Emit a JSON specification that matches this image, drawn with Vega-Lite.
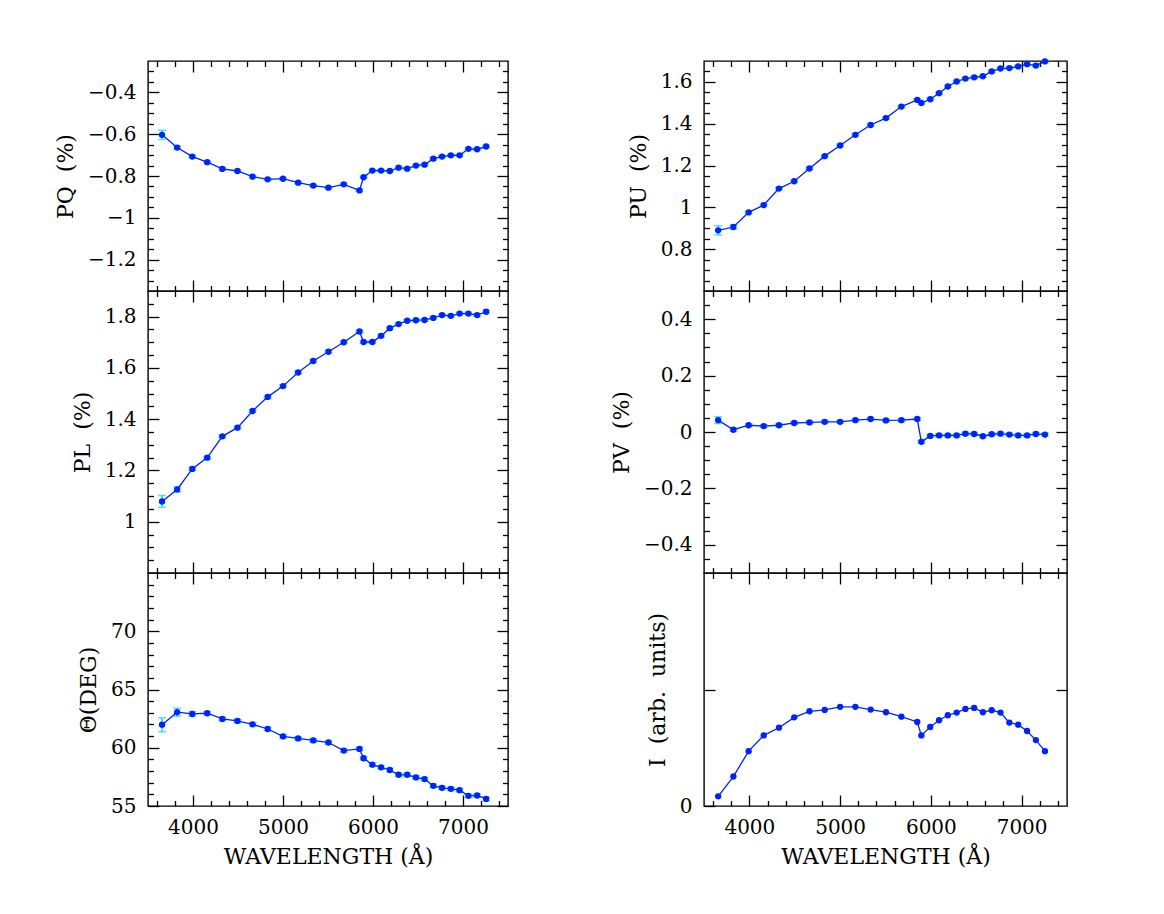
{
  "$schema": "https://vega.github.io/schema/vega-lite/v6.json",
  "background": "white",
  "padding": {"left": 53, "top": 57, "right": 10, "bottom": 10},
  "config": {
    "view": {"stroke": "black", "strokeWidth": 1.4},
    "axis": {
      "domain": false, "grid": false, "tickColor": "black", "tickWidth": 1.3,
      "labelFont": "DejaVu Serif", "labelFontSize": 20, "labelColor": "black",
      "titleFont": "DejaVu Serif", "titleFontSize": 22, "titleFontWeight": "normal", "titleColor": "black",
      "labelOverlap": false, "labelFlush": false, "labelBound": false
    }
  },
  "datasets": {
    "pq": [
      {"wl":3656,"v":-0.603,"e":0.022},{"wl":3824,"v":-0.664,"e":0.008},{"wl":3992,"v":-0.707,"e":0.006},{"wl":4158,"v":-0.734,"e":0.005},{"wl":4326,"v":-0.766,"e":0.005},{"wl":4494,"v":-0.776,"e":0.005},{"wl":4662,"v":-0.803,"e":0.005},{"wl":4830,"v":-0.816,"e":0.005},{"wl":5000,"v":-0.813,"e":0.005},{"wl":5168,"v":-0.832,"e":0.005},{"wl":5336,"v":-0.846,"e":0.005},{"wl":5505,"v":-0.856,"e":0.005},{"wl":5675,"v":-0.840,"e":0.005},{"wl":5850,"v":-0.869,"e":0.005},{"wl":5895,"v":-0.806,"e":0.005},{"wl":5993,"v":-0.774,"e":0.005},{"wl":6090,"v":-0.774,"e":0.005},{"wl":6187,"v":-0.776,"e":0.005},{"wl":6284,"v":-0.760,"e":0.005},{"wl":6380,"v":-0.765,"e":0.005},{"wl":6477,"v":-0.750,"e":0.005},{"wl":6573,"v":-0.746,"e":0.005},{"wl":6670,"v":-0.717,"e":0.005},{"wl":6767,"v":-0.707,"e":0.005},{"wl":6865,"v":-0.701,"e":0.005},{"wl":6962,"v":-0.701,"e":0.005},{"wl":7060,"v":-0.670,"e":0.005},{"wl":7157,"v":-0.672,"e":0.005},{"wl":7257,"v":-0.659,"e":0.005}
    ],
    "pu": [
      {"wl":3656,"v":0.890,"e":0.022},{"wl":3824,"v":0.906,"e":0.01},{"wl":3992,"v":0.976,"e":0.006},{"wl":4158,"v":1.011,"e":0.005},{"wl":4326,"v":1.090,"e":0.005},{"wl":4494,"v":1.125,"e":0.005},{"wl":4662,"v":1.186,"e":0.005},{"wl":4830,"v":1.245,"e":0.005},{"wl":5000,"v":1.296,"e":0.005},{"wl":5168,"v":1.347,"e":0.005},{"wl":5336,"v":1.394,"e":0.005},{"wl":5505,"v":1.427,"e":0.005},{"wl":5675,"v":1.482,"e":0.005},{"wl":5850,"v":1.514,"e":0.005},{"wl":5895,"v":1.499,"e":0.005},{"wl":5993,"v":1.517,"e":0.005},{"wl":6090,"v":1.546,"e":0.005},{"wl":6187,"v":1.578,"e":0.005},{"wl":6284,"v":1.602,"e":0.005},{"wl":6380,"v":1.616,"e":0.005},{"wl":6477,"v":1.622,"e":0.005},{"wl":6573,"v":1.627,"e":0.005},{"wl":6670,"v":1.650,"e":0.005},{"wl":6767,"v":1.664,"e":0.005},{"wl":6865,"v":1.666,"e":0.005},{"wl":6962,"v":1.674,"e":0.005},{"wl":7060,"v":1.685,"e":0.005},{"wl":7157,"v":1.678,"e":0.005},{"wl":7257,"v":1.698,"e":0.005}
    ],
    "pl": [
      {"wl":3656,"v":1.079,"e":0.023},{"wl":3824,"v":1.126,"e":0.01},{"wl":3992,"v":1.206,"e":0.006},{"wl":4158,"v":1.250,"e":0.005},{"wl":4326,"v":1.333,"e":0.005},{"wl":4494,"v":1.367,"e":0.005},{"wl":4662,"v":1.432,"e":0.005},{"wl":4830,"v":1.487,"e":0.005},{"wl":5000,"v":1.529,"e":0.005},{"wl":5168,"v":1.582,"e":0.005},{"wl":5336,"v":1.627,"e":0.005},{"wl":5505,"v":1.663,"e":0.005},{"wl":5675,"v":1.700,"e":0.005},{"wl":5850,"v":1.742,"e":0.005},{"wl":5895,"v":1.701,"e":0.005},{"wl":5993,"v":1.701,"e":0.005},{"wl":6090,"v":1.725,"e":0.005},{"wl":6187,"v":1.755,"e":0.005},{"wl":6284,"v":1.771,"e":0.005},{"wl":6380,"v":1.784,"e":0.005},{"wl":6477,"v":1.786,"e":0.005},{"wl":6573,"v":1.787,"e":0.005},{"wl":6670,"v":1.795,"e":0.005},{"wl":6767,"v":1.806,"e":0.005},{"wl":6865,"v":1.803,"e":0.005},{"wl":6962,"v":1.812,"e":0.005},{"wl":7060,"v":1.812,"e":0.005},{"wl":7157,"v":1.806,"e":0.005},{"wl":7257,"v":1.819,"e":0.005}
    ],
    "pv": [
      {"wl":3656,"v":0.042,"e":0.012},{"wl":3824,"v":0.008,"e":0.006},{"wl":3992,"v":0.024,"e":0.005},{"wl":4158,"v":0.021,"e":0.005},{"wl":4326,"v":0.024,"e":0.005},{"wl":4494,"v":0.032,"e":0.005},{"wl":4662,"v":0.034,"e":0.005},{"wl":4830,"v":0.036,"e":0.005},{"wl":5000,"v":0.036,"e":0.005},{"wl":5168,"v":0.042,"e":0.005},{"wl":5336,"v":0.046,"e":0.005},{"wl":5505,"v":0.041,"e":0.005},{"wl":5675,"v":0.042,"e":0.005},{"wl":5850,"v":0.046,"e":0.005},{"wl":5895,"v":-0.035,"e":0.005},{"wl":5993,"v":-0.014,"e":0.005},{"wl":6090,"v":-0.012,"e":0.005},{"wl":6187,"v":-0.012,"e":0.005},{"wl":6284,"v":-0.012,"e":0.005},{"wl":6380,"v":-0.006,"e":0.005},{"wl":6477,"v":-0.007,"e":0.005},{"wl":6573,"v":-0.015,"e":0.005},{"wl":6670,"v":-0.008,"e":0.005},{"wl":6767,"v":-0.006,"e":0.005},{"wl":6865,"v":-0.009,"e":0.005},{"wl":6962,"v":-0.012,"e":0.005},{"wl":7060,"v":-0.012,"e":0.005},{"wl":7157,"v":-0.007,"e":0.005},{"wl":7257,"v":-0.009,"e":0.005}
    ],
    "th": [
      {"wl":3656,"v":61.98,"e":0.6},{"wl":3824,"v":63.05,"e":0.35},{"wl":3992,"v":62.90,"e":0.2},{"wl":4158,"v":62.96,"e":0.15},{"wl":4326,"v":62.47,"e":0.15},{"wl":4494,"v":62.30,"e":0.15},{"wl":4662,"v":62.01,"e":0.15},{"wl":4830,"v":61.61,"e":0.15},{"wl":5000,"v":60.97,"e":0.15},{"wl":5168,"v":60.80,"e":0.15},{"wl":5336,"v":60.63,"e":0.15},{"wl":5505,"v":60.45,"e":0.15},{"wl":5675,"v":59.76,"e":0.15},{"wl":5850,"v":59.90,"e":0.15},{"wl":5895,"v":59.10,"e":0.15},{"wl":5993,"v":58.55,"e":0.15},{"wl":6090,"v":58.32,"e":0.15},{"wl":6187,"v":58.09,"e":0.15},{"wl":6284,"v":57.68,"e":0.15},{"wl":6380,"v":57.68,"e":0.15},{"wl":6477,"v":57.45,"e":0.15},{"wl":6573,"v":57.31,"e":0.15},{"wl":6670,"v":56.73,"e":0.15},{"wl":6767,"v":56.56,"e":0.15},{"wl":6865,"v":56.47,"e":0.15},{"wl":6962,"v":56.36,"e":0.15},{"wl":7060,"v":55.87,"e":0.15},{"wl":7157,"v":55.90,"e":0.15},{"wl":7257,"v":55.61,"e":0.15}
    ],
    "ii": [
      {"wl":3656,"v":0.083},{"wl":3824,"v":0.253},{"wl":3992,"v":0.471},{"wl":4158,"v":0.606},{"wl":4326,"v":0.672},{"wl":4494,"v":0.761},{"wl":4662,"v":0.813},{"wl":4830,"v":0.825},{"wl":5000,"v":0.851},{"wl":5168,"v":0.851},{"wl":5336,"v":0.828},{"wl":5505,"v":0.805},{"wl":5675,"v":0.767},{"wl":5850,"v":0.721},{"wl":5895,"v":0.606},{"wl":5993,"v":0.678},{"wl":6090,"v":0.736},{"wl":6187,"v":0.779},{"wl":6284,"v":0.802},{"wl":6380,"v":0.833},{"wl":6477,"v":0.842},{"wl":6573,"v":0.805},{"wl":6670,"v":0.822},{"wl":6767,"v":0.802},{"wl":6865,"v":0.716},{"wl":6962,"v":0.698},{"wl":7060,"v":0.644},{"wl":7157,"v":0.566},{"wl":7257,"v":0.471}
    ]
  },
  "hconcat": [
    {
      "vconcat": [
        {
          "width": 360, "height": 230,
          "data": {"name": "pq"},
          "layer": [
            {"mark": {"type": "errorbar", "color": "#00e0ff", "ticks": {"size": 8, "thickness": 1.5}, "rule": {"strokeWidth": 1.5}},
             "encoding": {"x": {"field": "wl", "type": "quantitative", "scale": {"domain": [3500, 7500], "nice": false, "zero": false}, "axis": null},
                          "y": {"field": "v", "type": "quantitative", "scale": {"domain": [-1.35, -0.25], "nice": false, "zero": false}, "axis": null},
                          "yError": {"field": "e"}}},
            {"mark": {"type": "line", "color": "#0022ff", "strokeWidth": 1.3},
             "encoding": {"x": {"field": "wl", "type": "quantitative", "scale": {"domain": [3500, 7500], "nice": false, "zero": false},
                                "axis": {"orient": "bottom", "labels": false, "title": null, "values": [3600,3800,4000,4200,4400,4600,4800,5000,5200,5400,5600,5800,6000,6200,6400,6600,6800,7000,7200,7400], "tickSize": {"condition": {"test": "datum.value % 1000 == 0", "value": -11}, "value": -5.5}}},
                          "y": {"field": "v", "type": "quantitative", "scale": {"domain": [-1.35, -0.25], "nice": false, "zero": false},
                                "axis": {"orient": "left", "title": "PQ\u00a0 (%)", "titlePadding": 10, "labelPadding": 23, "values": [-1.3,-1.25,-1.2,-1.15,-1.1,-1.05,-1,-0.95,-0.9,-0.85,-0.8,-0.75,-0.7,-0.65,-0.6,-0.55,-0.5,-0.45,-0.4,-0.35,-0.3], "labelExpr": "abs(datum.value/0.2-round(datum.value/0.2))<0.001 ? format(datum.value, '~g') : ''", "tickSize": {"condition": {"test": "abs(datum.value/0.2-round(datum.value/0.2))<0.001", "value": -11}, "value": -5.5}}}}},
            {"mark": {"type": "circle", "color": "#0022ff", "size": 40, "opacity": 1},
             "encoding": {"x": {"field": "wl", "type": "quantitative", "scale": {"domain": [3500, 7500], "nice": false, "zero": false},
                                "axis": {"orient": "top", "labels": false, "title": null, "values": [3600,3800,4000,4200,4400,4600,4800,5000,5200,5400,5600,5800,6000,6200,6400,6600,6800,7000,7200,7400], "tickSize": {"condition": {"test": "datum.value % 1000 == 0", "value": -11}, "value": -5.5}}},
                          "y": {"field": "v", "type": "quantitative", "scale": {"domain": [-1.35, -0.25], "nice": false, "zero": false},
                                "axis": {"orient": "right", "labels": false, "title": null, "values": [-1.3,-1.25,-1.2,-1.15,-1.1,-1.05,-1,-0.95,-0.9,-0.85,-0.8,-0.75,-0.7,-0.65,-0.6,-0.55,-0.5,-0.45,-0.4,-0.35,-0.3], "tickSize": {"condition": {"test": "abs(datum.value/0.2-round(datum.value/0.2))<0.001", "value": -11}, "value": -5.5}}}}}
          ],
          "resolve": {"axis": {"x": "independent", "y": "independent"}}
        },
        {
          "width": 360, "height": 282,
          "data": {"name": "pl"},
          "layer": [
            {"mark": {"type": "errorbar", "color": "#00e0ff", "ticks": {"size": 8, "thickness": 1.5}, "rule": {"strokeWidth": 1.5}},
             "encoding": {"x": {"field": "wl", "type": "quantitative", "scale": {"domain": [3500, 7500], "nice": false, "zero": false}, "axis": null},
                          "y": {"field": "v", "type": "quantitative", "scale": {"domain": [0.8, 1.9], "nice": false, "zero": false}, "axis": null},
                          "yError": {"field": "e"}}},
            {"mark": {"type": "line", "color": "#0022ff", "strokeWidth": 1.3},
             "encoding": {"x": {"field": "wl", "type": "quantitative", "scale": {"domain": [3500, 7500], "nice": false, "zero": false},
                                "axis": {"orient": "bottom", "labels": false, "title": null, "values": [3600,3800,4000,4200,4400,4600,4800,5000,5200,5400,5600,5800,6000,6200,6400,6600,6800,7000,7200,7400], "tickSize": {"condition": {"test": "datum.value % 1000 == 0", "value": -11}, "value": -5.5}}},
                          "y": {"field": "v", "type": "quantitative", "scale": {"domain": [0.8, 1.9], "nice": false, "zero": false},
                                "axis": {"orient": "left", "title": "PL\u00a0 (%)", "titlePadding": 10, "labelPadding": 23, "values": [0.85,0.9,0.95,1,1.05,1.1,1.15,1.2,1.25,1.3,1.35,1.4,1.45,1.5,1.55,1.6,1.65,1.7,1.75,1.8,1.85], "labelExpr": "abs(datum.value/0.2-round(datum.value/0.2))<0.001 ? format(datum.value, '~g') : ''", "tickSize": {"condition": {"test": "abs(datum.value/0.2-round(datum.value/0.2))<0.001", "value": -11}, "value": -5.5}}}}},
            {"mark": {"type": "circle", "color": "#0022ff", "size": 40, "opacity": 1},
             "encoding": {"x": {"field": "wl", "type": "quantitative", "scale": {"domain": [3500, 7500], "nice": false, "zero": false},
                                "axis": {"orient": "top", "labels": false, "title": null, "values": [3600,3800,4000,4200,4400,4600,4800,5000,5200,5400,5600,5800,6000,6200,6400,6600,6800,7000,7200,7400], "tickSize": {"condition": {"test": "datum.value % 1000 == 0", "value": -11}, "value": -5.5}}},
                          "y": {"field": "v", "type": "quantitative", "scale": {"domain": [0.8, 1.9], "nice": false, "zero": false},
                                "axis": {"orient": "right", "labels": false, "title": null, "values": [0.85,0.9,0.95,1,1.05,1.1,1.15,1.2,1.25,1.3,1.35,1.4,1.45,1.5,1.55,1.6,1.65,1.7,1.75,1.8,1.85], "tickSize": {"condition": {"test": "abs(datum.value/0.2-round(datum.value/0.2))<0.001", "value": -11}, "value": -5.5}}}}}
          ],
          "resolve": {"axis": {"x": "independent", "y": "independent"}}
        },
        {
          "width": 360, "height": 233,
          "data": {"name": "th"},
          "layer": [
            {"mark": {"type": "errorbar", "color": "#00e0ff", "ticks": {"size": 8, "thickness": 1.5}, "rule": {"strokeWidth": 1.5}},
             "encoding": {"x": {"field": "wl", "type": "quantitative", "scale": {"domain": [3500, 7500], "nice": false, "zero": false}, "axis": null},
                          "y": {"field": "v", "type": "quantitative", "scale": {"domain": [55, 75], "nice": false, "zero": false}, "axis": null},
                          "yError": {"field": "e"}}},
            {"mark": {"type": "line", "color": "#0022ff", "strokeWidth": 1.3},
             "encoding": {"x": {"field": "wl", "type": "quantitative", "scale": {"domain": [3500, 7500], "nice": false, "zero": false},
                                "axis": {"orient": "bottom", "title": "WAVELENGTH (Å)", "titlePadding": 4, "labelPadding": 22, "values": [3600,3800,4000,4200,4400,4600,4800,5000,5200,5400,5600,5800,6000,6200,6400,6600,6800,7000,7200,7400], "labelExpr": "datum.value % 1000 == 0 ? format(datum.value, 'd') : ''", "tickSize": {"condition": {"test": "datum.value % 1000 == 0", "value": -11}, "value": -5.5}}},
                          "y": {"field": "v", "type": "quantitative", "scale": {"domain": [55, 75], "nice": false, "zero": false},
                                "axis": {"orient": "left", "title": "Θ(DEG)", "titlePadding": 10, "labelPadding": 23, "values": [55,56,57,58,59,60,61,62,63,64,65,66,67,68,69,70,71,72,73,74], "labelExpr": "datum.value % 5 == 0 ? format(datum.value, 'd') : ''", "tickSize": {"condition": {"test": "datum.value % 5 == 0", "value": -11}, "value": -5.5}}}}},
            {"mark": {"type": "circle", "color": "#0022ff", "size": 40, "opacity": 1},
             "encoding": {"x": {"field": "wl", "type": "quantitative", "scale": {"domain": [3500, 7500], "nice": false, "zero": false},
                                "axis": {"orient": "top", "labels": false, "title": null, "values": [3600,3800,4000,4200,4400,4600,4800,5000,5200,5400,5600,5800,6000,6200,6400,6600,6800,7000,7200,7400], "tickSize": {"condition": {"test": "datum.value % 1000 == 0", "value": -11}, "value": -5.5}}},
                          "y": {"field": "v", "type": "quantitative", "scale": {"domain": [55, 75], "nice": false, "zero": false},
                                "axis": {"orient": "right", "labels": false, "title": null, "values": [55,56,57,58,59,60,61,62,63,64,65,66,67,68,69,70,71,72,73,74], "tickSize": {"condition": {"test": "datum.value % 5 == 0", "value": -11}, "value": -5.5}}}}}
          ],
          "resolve": {"axis": {"x": "independent", "y": "independent"}}
        }
      ],
      "spacing": 0,
      "bounds": "flush"
    },
    {
      "vconcat": [
        {
          "width": 363, "height": 230,
          "data": {"name": "pu"},
          "layer": [
            {"mark": {"type": "errorbar", "color": "#00e0ff", "ticks": {"size": 8, "thickness": 1.5}, "rule": {"strokeWidth": 1.5}},
             "encoding": {"x": {"field": "wl", "type": "quantitative", "scale": {"domain": [3500, 7500], "nice": false, "zero": false}, "axis": null},
                          "y": {"field": "v", "type": "quantitative", "scale": {"domain": [0.6, 1.7], "nice": false, "zero": false}, "axis": null},
                          "yError": {"field": "e"}}},
            {"mark": {"type": "line", "color": "#0022ff", "strokeWidth": 1.3},
             "encoding": {"x": {"field": "wl", "type": "quantitative", "scale": {"domain": [3500, 7500], "nice": false, "zero": false},
                                "axis": {"orient": "bottom", "labels": false, "title": null, "values": [3600,3800,4000,4200,4400,4600,4800,5000,5200,5400,5600,5800,6000,6200,6400,6600,6800,7000,7200,7400], "tickSize": {"condition": {"test": "datum.value % 1000 == 0", "value": -11}, "value": -5.5}}},
                          "y": {"field": "v", "type": "quantitative", "scale": {"domain": [0.6, 1.7], "nice": false, "zero": false},
                                "axis": {"orient": "left", "title": "PU\u00a0 (%)", "titlePadding": 10, "labelPadding": 23, "values": [0.65,0.7,0.75,0.8,0.85,0.9,0.95,1,1.05,1.1,1.15,1.2,1.25,1.3,1.35,1.4,1.45,1.5,1.55,1.6,1.65], "labelExpr": "abs(datum.value/0.2-round(datum.value/0.2))<0.001 ? format(datum.value, '~g') : ''", "tickSize": {"condition": {"test": "abs(datum.value/0.2-round(datum.value/0.2))<0.001", "value": -11}, "value": -5.5}}}}},
            {"mark": {"type": "circle", "color": "#0022ff", "size": 40, "opacity": 1},
             "encoding": {"x": {"field": "wl", "type": "quantitative", "scale": {"domain": [3500, 7500], "nice": false, "zero": false},
                                "axis": {"orient": "top", "labels": false, "title": null, "values": [3600,3800,4000,4200,4400,4600,4800,5000,5200,5400,5600,5800,6000,6200,6400,6600,6800,7000,7200,7400], "tickSize": {"condition": {"test": "datum.value % 1000 == 0", "value": -11}, "value": -5.5}}},
                          "y": {"field": "v", "type": "quantitative", "scale": {"domain": [0.6, 1.7], "nice": false, "zero": false},
                                "axis": {"orient": "right", "labels": false, "title": null, "values": [0.65,0.7,0.75,0.8,0.85,0.9,0.95,1,1.05,1.1,1.15,1.2,1.25,1.3,1.35,1.4,1.45,1.5,1.55,1.6,1.65], "tickSize": {"condition": {"test": "abs(datum.value/0.2-round(datum.value/0.2))<0.001", "value": -11}, "value": -5.5}}}}}
          ],
          "resolve": {"axis": {"x": "independent", "y": "independent"}}
        },
        {
          "width": 363, "height": 282,
          "data": {"name": "pv"},
          "layer": [
            {"mark": {"type": "errorbar", "color": "#00e0ff", "ticks": {"size": 8, "thickness": 1.5}, "rule": {"strokeWidth": 1.5}},
             "encoding": {"x": {"field": "wl", "type": "quantitative", "scale": {"domain": [3500, 7500], "nice": false, "zero": false}, "axis": null},
                          "y": {"field": "v", "type": "quantitative", "scale": {"domain": [-0.5, 0.5], "nice": false, "zero": false}, "axis": null},
                          "yError": {"field": "e"}}},
            {"mark": {"type": "line", "color": "#0022ff", "strokeWidth": 1.3},
             "encoding": {"x": {"field": "wl", "type": "quantitative", "scale": {"domain": [3500, 7500], "nice": false, "zero": false},
                                "axis": {"orient": "bottom", "labels": false, "title": null, "values": [3600,3800,4000,4200,4400,4600,4800,5000,5200,5400,5600,5800,6000,6200,6400,6600,6800,7000,7200,7400], "tickSize": {"condition": {"test": "datum.value % 1000 == 0", "value": -11}, "value": -5.5}}},
                          "y": {"field": "v", "type": "quantitative", "scale": {"domain": [-0.5, 0.5], "nice": false, "zero": false},
                                "axis": {"orient": "left", "title": "PV\u00a0 (%)", "titlePadding": 10, "labelPadding": 23, "values": [-0.45,-0.4,-0.35,-0.3,-0.25,-0.2,-0.15,-0.1,-0.05,0,0.05,0.1,0.15,0.2,0.25,0.3,0.35,0.4,0.45], "labelExpr": "abs(datum.value/0.2-round(datum.value/0.2))<0.001 ? format(datum.value, '~g') : ''", "tickSize": {"condition": {"test": "abs(datum.value/0.2-round(datum.value/0.2))<0.001", "value": -11}, "value": -5.5}}}}},
            {"mark": {"type": "circle", "color": "#0022ff", "size": 40, "opacity": 1},
             "encoding": {"x": {"field": "wl", "type": "quantitative", "scale": {"domain": [3500, 7500], "nice": false, "zero": false},
                                "axis": {"orient": "top", "labels": false, "title": null, "values": [3600,3800,4000,4200,4400,4600,4800,5000,5200,5400,5600,5800,6000,6200,6400,6600,6800,7000,7200,7400], "tickSize": {"condition": {"test": "datum.value % 1000 == 0", "value": -11}, "value": -5.5}}},
                          "y": {"field": "v", "type": "quantitative", "scale": {"domain": [-0.5, 0.5], "nice": false, "zero": false},
                                "axis": {"orient": "right", "labels": false, "title": null, "values": [-0.45,-0.4,-0.35,-0.3,-0.25,-0.2,-0.15,-0.1,-0.05,0,0.05,0.1,0.15,0.2,0.25,0.3,0.35,0.4,0.45], "tickSize": {"condition": {"test": "abs(datum.value/0.2-round(datum.value/0.2))<0.001", "value": -11}, "value": -5.5}}}}}
          ],
          "resolve": {"axis": {"x": "independent", "y": "independent"}}
        },
        {
          "width": 363, "height": 233,
          "data": {"name": "ii"},
          "layer": [
            {"mark": {"type": "line", "color": "#0022ff", "strokeWidth": 1.3},
             "encoding": {"x": {"field": "wl", "type": "quantitative", "scale": {"domain": [3500, 7500], "nice": false, "zero": false},
                                "axis": {"orient": "bottom", "title": "WAVELENGTH (Å)", "titlePadding": 4, "labelPadding": 22, "values": [3600,3800,4000,4200,4400,4600,4800,5000,5200,5400,5600,5800,6000,6200,6400,6600,6800,7000,7200,7400], "labelExpr": "datum.value % 1000 == 0 ? format(datum.value, 'd') : ''", "tickSize": {"condition": {"test": "datum.value % 1000 == 0", "value": -11}, "value": -5.5}}},
                          "y": {"field": "v", "type": "quantitative", "scale": {"domain": [0, 2], "nice": false, "zero": false},
                                "axis": {"orient": "left", "title": "I\u00a0 (arb.\u00a0 units)", "titlePadding": 10, "labelPadding": 23, "values": [0, 1], "labelExpr": "datum.value == 0 ? '0' : ''", "tickSize": -11}}}},
            {"mark": {"type": "circle", "color": "#0022ff", "size": 40, "opacity": 1},
             "encoding": {"x": {"field": "wl", "type": "quantitative", "scale": {"domain": [3500, 7500], "nice": false, "zero": false},
                                "axis": {"orient": "top", "labels": false, "title": null, "values": [3600,3800,4000,4200,4400,4600,4800,5000,5200,5400,5600,5800,6000,6200,6400,6600,6800,7000,7200,7400], "tickSize": {"condition": {"test": "datum.value % 1000 == 0", "value": -11}, "value": -5.5}}},
                          "y": {"field": "v", "type": "quantitative", "scale": {"domain": [0, 2], "nice": false, "zero": false},
                                "axis": {"orient": "right", "labels": false, "title": null, "values": [1], "tickSize": -11}}}}
          ],
          "resolve": {"axis": {"x": "independent", "y": "independent"}}
        }
      ],
      "spacing": 0,
      "bounds": "flush"
    }
  ],
  "spacing": 99
}
